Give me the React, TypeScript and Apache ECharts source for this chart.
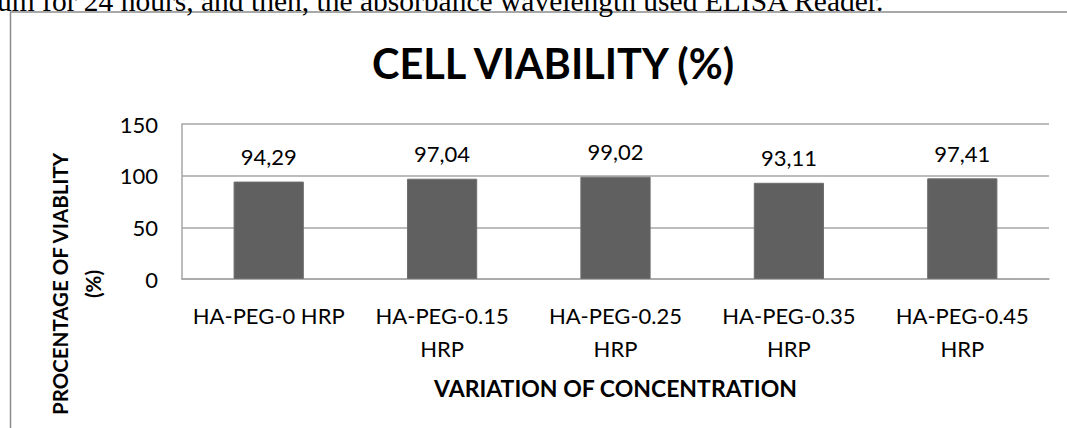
import React, { useEffect, useRef } from "react";
import * as echarts from "echarts";

const categories = [
  "HA-PEG-0 HRP",
  "HA-PEG-0.15\nHRP",
  "HA-PEG-0.25\nHRP",
  "HA-PEG-0.35\nHRP",
  "HA-PEG-0.45\nHRP",
];
const viability = [94.29, 97.04, 99.02, 93.11, 97.41];
const yTicks = { min: 0, max: 150, interval: 50 };
const titleText = "CELL VIABILITY (%)";
const xName = "VARIATION OF CONCENTRATION";
const yName = "PROCENTAGE OF VIABLITY\n(%)";
const bodyText = "um for 24 hours, and then, the absorbance wavelength used ELISA Reader.";

export default function App() {
  const ref = useRef<HTMLDivElement>(null);
  useEffect(() => {
    if (!ref.current) return;
    const chart = echarts.init(ref.current, undefined, { renderer: "svg" });
    const font = "Lato";
    chart.setOption({
      animation: false,
      backgroundColor: "#ffffff",
      title: {
        text: titleText,
        left: 548,
        top: 37,
        textAlign: "center",
        textStyle: { fontFamily: font, fontWeight: "bold", fontSize: 41.5, color: "#000" },
      },
      grid: { left: 182, right: 18, top: 124, bottom: 149, containLabel: false },
      xAxis: {
        type: "category",
        data: categories,
        name: xName,
        nameLocation: "middle",
        nameGap: 109,
        nameTextStyle: {
          fontFamily: font,
          fontWeight: "bold",
          fontSize: 23,
          color: "#000",
          verticalAlign: "middle",
        },
        axisLine: { show: true, lineStyle: { color: "#a6a6a6", width: 1.5 } },
        axisTick: { show: false },
        axisLabel: {
          fontFamily: font,
          fontSize: 22,
          color: "#000",
          margin: 20,
          lineHeight: 33,
          interval: 0,
        },
      },
      yAxis: {
        type: "value",
        min: yTicks.min,
        max: yTicks.max,
        interval: yTicks.interval,
        axisLine: { show: true, lineStyle: { color: "#a6a6a6", width: 1.5 } },
        axisTick: { show: false },
        splitLine: { show: true, lineStyle: { color: "#a6a6a6", width: 1.5 } },
        axisLabel: { fontFamily: font, fontSize: 22, color: "#000", margin: 24 },
      },
      graphic: [
        {
          type: "rect",
          shape: { x: 10.5, y: 12, width: 1100, height: 500 },
          style: { fill: "none", stroke: "#8c8c8c", lineWidth: 1.5 },
          silent: true,
        },
        {
          type: "text",
          x: -3,
          y: 16,
          style: {
            text: bodyText,
            font: "29.5px 'Liberation Serif'",
            fill: "#000",
            align: "left",
            verticalAlign: "bottom",
          },
        },
        {
          type: "text",
          x: 76,
          y: 284,
          rotation: Math.PI / 2,
          style: {
            text: yName,
            font: `bold 20.5px ${font}`,
            fill: "#000",
            align: "center",
            verticalAlign: "middle",
            lineHeight: 33,
          },
        },
      ],
      series: [
        {
          type: "bar",
          data: viability,
          barWidth: "40.5%",
          itemStyle: { color: "#606060", borderColor: "#6e6e6e", borderWidth: 1 },
          label: {
            show: true,
            position: "top",
            distance: 14,
            fontFamily: font,
            fontSize: 22,
            color: "#000",
            formatter: (p: any) => p.value.toFixed(2).replace(".", ","),
          },
        },
      ],
    });
    return () => chart.dispose();
  }, []);
  return (
    <div
      ref={ref}
      style={{ position: "absolute", left: 0, top: 0, width: 1067, height: 428 }}
    />
  );
}
